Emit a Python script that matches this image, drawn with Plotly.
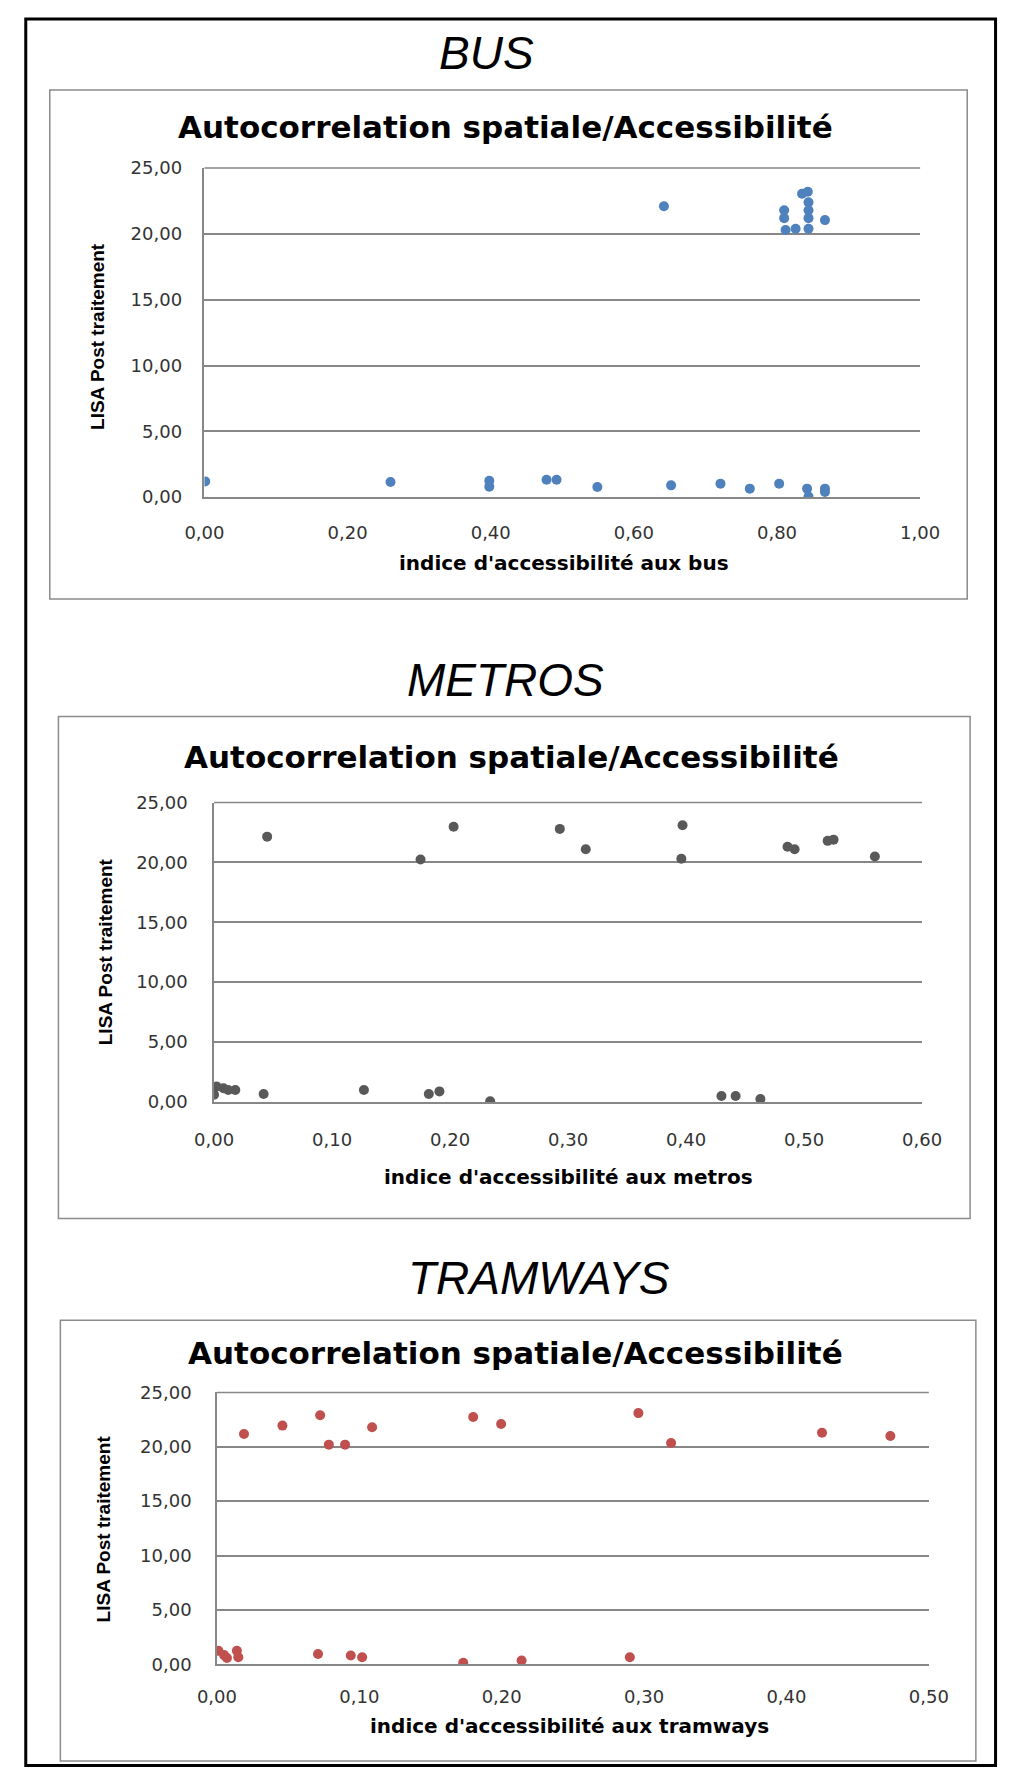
import plotly.graph_objects as go

W, H = 1017, 1776

# ---------------- data ----------------
bus_x = [0.001, 0.260, 0.398, 0.398, 0.478, 0.492, 0.549, 0.642, 0.652, 0.721, 0.762, 0.803,
         0.810, 0.810, 0.812, 0.826, 0.835, 0.843, 0.844, 0.844, 0.844, 0.844, 0.842, 0.844,
         0.867, 0.867, 0.867]
bus_y = [1.20, 1.15, 1.25, 0.80, 1.33, 1.33, 0.77, 22.10, 0.90, 1.03, 0.65, 1.03,
         21.80, 21.20, 20.30, 20.40, 23.05, 23.20, 22.40, 21.80, 21.20, 20.40, 0.65, 0.05,
         21.05, 0.65, 0.40]

metro_x = [0.045, 0.175, 0.203, 0.293, 0.315, 0.397, 0.396, 0.486, 0.492, 0.520, 0.525, 0.560,
           0.000, 0.000, 0.002, 0.008, 0.012, 0.018, 0.042, 0.127, 0.182, 0.191, 0.234,
           0.430, 0.442, 0.463]
metro_y = [22.15, 20.25, 22.97, 22.80, 21.10, 23.10, 20.30, 21.30, 21.10, 21.80, 21.90, 20.50,
           1.15, 0.60, 1.30, 1.15, 1.00, 1.00, 0.66, 1.00, 0.66, 0.88, 0.05,
           0.50, 0.50, 0.25]

tram_x = [0.019, 0.046, 0.0725, 0.0786, 0.090, 0.109, 0.180, 0.1996, 0.296, 0.319, 0.425, 0.473,
          0.001, 0.005, 0.007, 0.014, 0.015, 0.071, 0.094, 0.102, 0.173, 0.214, 0.290]
tram_y = [21.18, 21.95, 22.90, 20.20, 20.20, 21.80, 22.75, 22.10, 23.10, 20.35, 21.30, 21.00,
          1.24, 0.84, 0.57, 1.24, 0.64, 0.94, 0.80, 0.64, 0.13, 0.34, 0.64]

y_tickvals = [0, 5, 10, 15, 20, 25]
y_ticktext = ["0,00", "5,00", "10,00", "15,00", "20,00", "25,00"]
bus_tickvals = [0, 0.2, 0.4, 0.6, 0.8, 1.0]
bus_ticktext = ["0,00", "0,20", "0,40", "0,60", "0,80", "1,00"]
metro_tickvals = [0, 0.1, 0.2, 0.3, 0.4, 0.5, 0.6]
metro_ticktext = ["0,00", "0,10", "0,20", "0,30", "0,40", "0,50", "0,60"]
tram_tickvals = [0, 0.1, 0.2, 0.3, 0.4, 0.5]
tram_ticktext = ["0,00", "0,10", "0,20", "0,30", "0,40", "0,50"]

panel_titles = ["BUS", "METROS", "TRAMWAYS"]
chart_title = "Autocorrelation spatiale/Accessibilité"
y_title = "LISA Post traitement"
x_titles = ["indice d'accessibilité aux bus",
            "indice d'accessibilité aux metros",
            "indice d'accessibilité aux tramways"]

# ---------------- layout (pixel geometry) ----------------
def fx(px):
    return px / W


def fy(py):
    return 1 - py / H


panels = [
    dict(x=bus_x, y=bus_y, color="#4F81BD", tv=bus_tickvals, tt=bus_ticktext, xr=[0, 1.0],
         plot=(192, 159, 937, 492), box=(31, 80, 986, 595), big=(486, 43), ct=(505, 117),
         yt=(80, 329), xt=(566, 559), ylen=17, xlen=18),
    dict(x=metro_x, y=metro_y, color="#595959", tv=metro_tickvals, tt=metro_ticktext, xr=[0, 0.6],
         plot=(202, 801, 939, 1104), box=(40, 714, 989, 1222), big=(505, 677), ct=(512, 755),
         yt=(89, 952), xt=(571, 1180), ylen=21, xlen=21),
    dict(x=tram_x, y=tram_y, color="#C0504D", tv=tram_tickvals, tt=tram_ticktext, xr=[0, 0.5],
         plot=(205, 1398, 946, 1673), box=(42, 1325, 995, 1771), big=(540, 1282), ct=(516, 1358),
         yt=(87, 1536), xt=(572, 1736), ylen=20, xlen=15),
]

GRID = "#878787"
TICKFONT = dict(family="DejaVu Sans", size=18, color="#333333")

fig = go.Figure()
shapes = []
annotations = []
layout_axes = {}

for i, p in enumerate(panels):
    n = "" if i == 0 else str(i + 1)
    fig.add_trace(go.Scatter(
        x=p["x"], y=p["y"], mode="markers",
        marker=dict(color=p["color"], size=10, line=dict(width=0)),
        xaxis="x" + n, yaxis="y" + n, showlegend=False, hoverinfo="x+y"))
    x0, y0, x1, y1 = p["plot"]
    layout_axes["xaxis" + n] = dict(
        domain=[fx(x0), fx(x1)], range=p["xr"], anchor="y" + n,
        tickvals=p["tv"], ticktext=p["tt"], showgrid=False, zeroline=False,
        showline=True, linecolor=GRID, linewidth=1.5,
        ticks="outside", ticklen=p["xlen"], tickcolor="rgba(0,0,0,0)",
        tickfont=TICKFONT, fixedrange=True)
    layout_axes["yaxis" + n] = dict(
        domain=[fy(y1), fy(y0)], range=[0, 25], anchor="x" + n,
        tickvals=y_tickvals, ticktext=y_ticktext, showgrid=True, gridcolor=GRID,
        gridwidth=1.5, zeroline=False, showline=True, linecolor=GRID, linewidth=1.5,
        ticks="outside", ticklen=p["ylen"], tickcolor="rgba(0,0,0,0)",
        tickfont=TICKFONT, fixedrange=True)
    shapes.append(dict(type="line", xref="paper", yref="paper",
                       x0=fx(x0), x1=fx(x1), y0=fy(y0), y1=fy(y0),
                       line=dict(color=GRID, width=1.5)))
    bx0, by0, bx1, by1 = p["box"]
    shapes.append(dict(type="rect", xref="paper", yref="paper",
                       x0=fx(bx0), x1=fx(bx1), y0=fy(by1), y1=fy(by0),
                       line=dict(color="#8C8C8C", width=1.5), layer="below"))
    annotations.append(dict(text=panel_titles[i], x=fx(p["big"][0]), y=fy(p["big"][1]),
                            xref="paper", yref="paper", showarrow=False,
                            xanchor="center", yanchor="middle",
                            font=dict(family="Liberation Sans", size=46, color="#000000",
                                      style="italic")))
    annotations.append(dict(text="<b>" + chart_title + "</b>", x=fx(p["ct"][0]), y=fy(p["ct"][1]),
                            xref="paper", yref="paper", showarrow=False,
                            xanchor="center", yanchor="middle",
                            font=dict(family="DejaVu Sans", size=31, color="#000000")))
    annotations.append(dict(text="<b>" + y_title + "</b>", x=fx(p["yt"][0]), y=fy(p["yt"][1]),
                            xref="paper", yref="paper", showarrow=False, textangle=-90,
                            xanchor="center", yanchor="middle",
                            font=dict(family="Liberation Sans", size=19, color="#000000")))
    annotations.append(dict(text="<b>" + x_titles[i] + "</b>", x=fx(p["xt"][0]), y=fy(p["xt"][1]),
                            xref="paper", yref="paper", showarrow=False,
                            xanchor="center", yanchor="middle",
                            font=dict(family="DejaVu Sans", size=20, color="#000000")))

# outer black frame (right and bottom edges sit on the page edge)
shapes.append(dict(type="rect", xref="paper", yref="paper",
                   x0=fx(6), x1=fx(1015.5), y0=fy(1775.5), y1=fy(8),
                   line=dict(color="#000000", width=3)))

fig.update_layout(
    width=W, height=H, margin=dict(l=0, r=0, t=0, b=0),
    paper_bgcolor="white", plot_bgcolor="white",
    shapes=shapes, annotations=annotations, showlegend=False,
    **layout_axes)

fig.write_html("out.html", config={"displayModeBar": False},
               post_script="document.body.style.margin='0';document.body.style.padding='0';")
